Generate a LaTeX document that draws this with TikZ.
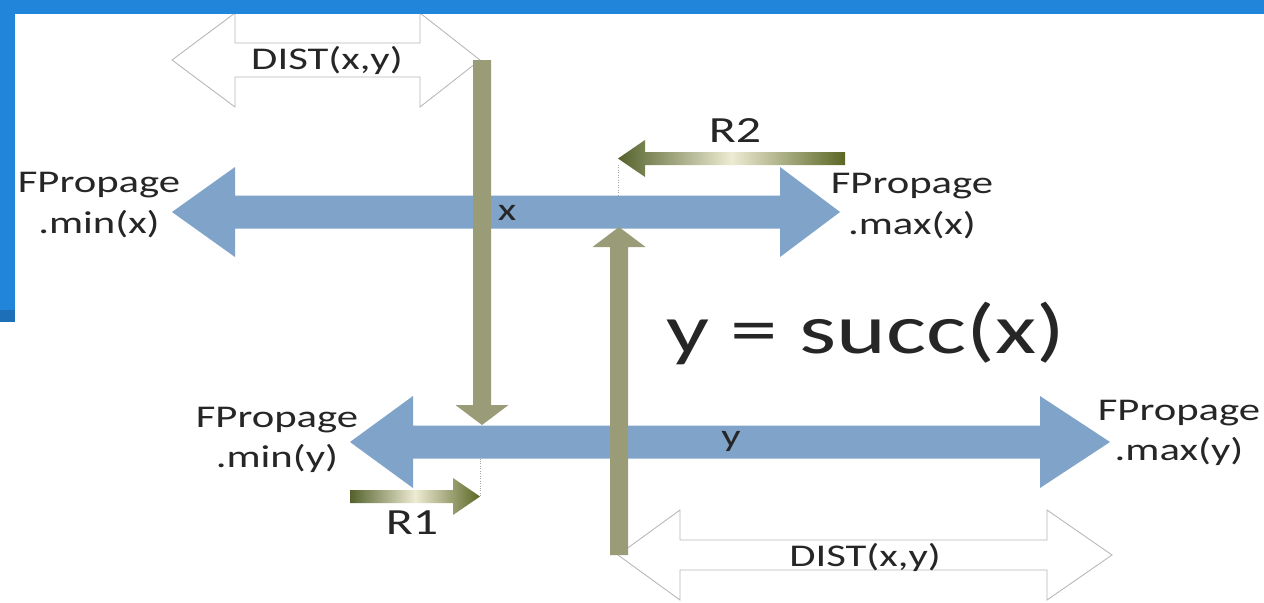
\documentclass[tikz,border=0pt]{standalone}
\usepackage{fontspec}
\setmainfont[FakeStretch=1.35]{Carlito}
\usepackage{tikz}
\definecolor{slideblue}{HTML}{2185D9}
\definecolor{slidedark}{HTML}{1D6FB8}
\definecolor{flowblue}{HTML}{7FA3C9}
\definecolor{stemolive}{HTML}{9A9C78}
\definecolor{rdark}{HTML}{55622C}
\definecolor{rlight}{HTML}{EDEBD3}
\definecolor{distgray}{HTML}{B8B8B8}
\definecolor{inkgray}{HTML}{262626}
\tikzstyle{band} = [fill=slideblue, draw=none]
\tikzstyle{flow} = [fill=flowblue, draw=none]
\tikzstyle{dist} = [fill=white, draw=distgray, line width=0.5pt]
\tikzstyle{stem} = [fill=stemolive, draw=none]
\tikzstyle{rarrow} = [left color=rdark, right color=rdark!85!olive, middle color=rlight, draw=none]
\tikzstyle{guide} = [draw=gray!70, densely dotted, line width=0.4pt]
\tikzstyle{lbl} = [text=inkgray, align=center, inner sep=0pt, font=\fontsize{18}{23}\selectfont]

\begin{document}
\begin{tikzpicture}[x=0.02cm, y=-0.02cm]
  \useasboundingbox (0,0) rectangle (1264,602);
  \fill[white] (0,0) rectangle (1264,602);

  % DIST oben
  \draw[dist] (172,60) -- (235,13) -- (235,43) -- (420,43) -- (420,13) -- (480,60) -- (420,107) -- (420,77) -- (235,77) -- (235,107) -- cycle;
  \node[lbl] (disttop) at (327,60) {DIST(x,y)};

  % x
  \fill[flow] (172,212) -- (235,167) -- (235,195.5) -- (780,195.5) -- (780,167) -- (840,212) -- (780,257) -- (780,228.5) -- (235,228.5) -- (235,257) -- cycle;
  \node[lbl] (xlbl) at (507,213) {x};

  % y
  \fill[flow] (350,442) -- (413,396) -- (413,425.5) -- (1040,425.5) -- (1040,396) -- (1110,442) -- (1040,488) -- (1040,458.5) -- (413,458.5) -- (413,488) -- cycle;
  \node[lbl] (ylbl) at (731,441) {y};

  % DIST unten
  \draw[dist] (618,555) -- (680,510) -- (680,540) -- (1047,540) -- (1047,510) -- (1112,555) -- (1047,600) -- (1047,570) -- (680,570) -- (680,600) -- cycle;
  \node[lbl] (distbot) at (865,557) {DIST(x,y)};

  % olive Pfeile
  \fill[stem] (473,60) -- (491,60) -- (491,405) -- (508.5,405) -- (482,425) -- (455.5,405) -- (473,405) -- cycle;
  \fill[stem] (610,555) -- (628,555) -- (628,247) -- (645.5,247) -- (619,227) -- (592.5,247) -- (610,247) -- cycle;

  % R1, R2
  \shade[rarrow] (845,152) -- (645,152) -- (645,140) -- (618,158.5) -- (645,177) -- (645,165) -- (845,165) -- cycle;
  \shade[rarrow] (350,490) -- (453,490) -- (453,478) -- (480,496.5) -- (453,515) -- (453,503) -- (350,503) -- cycle;
  \node[lbl, font=\fontsize{21}{25}\selectfont] (r2lbl) at (735,131) {R2};
  \node[lbl, font=\fontsize{21}{25}\selectfont] (r1lbl) at (412,523) {R1};

  \coordinate (r2tip) at (618,165);
  \coordinate (xtop) at (618,195);
  \coordinate (ybot) at (480,458.5);
  \coordinate (r1tip) at (480,496.5);
  \draw[guide] (r2tip) -- (xtop);
  \draw[guide] (ybot) -- (r1tip);

  % Beschriftungen
  \node[lbl] (minx) at (99,205) {FPropage\\.min(x)};
  \node[lbl] (maxx) at (912,206) {FPropage\\.max(x)};
  \node[lbl] (miny) at (277,440) {FPropage\\.min(y)};
  \node[lbl] (maxy) at (1179,433) {FPropage\\.max(y)};
  \node[lbl, font=\fontsize{40}{48}\selectfont, anchor=base] (succ) at (866,353) {y = succ(x)};

  % Folienrand
  \fill[band] (0,0) rectangle (1264,14);
  \fill[band] (0,0) rectangle (15,322);
  \fill[slidedark] (0,310) rectangle (15,322);
\end{tikzpicture}
\end{document}
